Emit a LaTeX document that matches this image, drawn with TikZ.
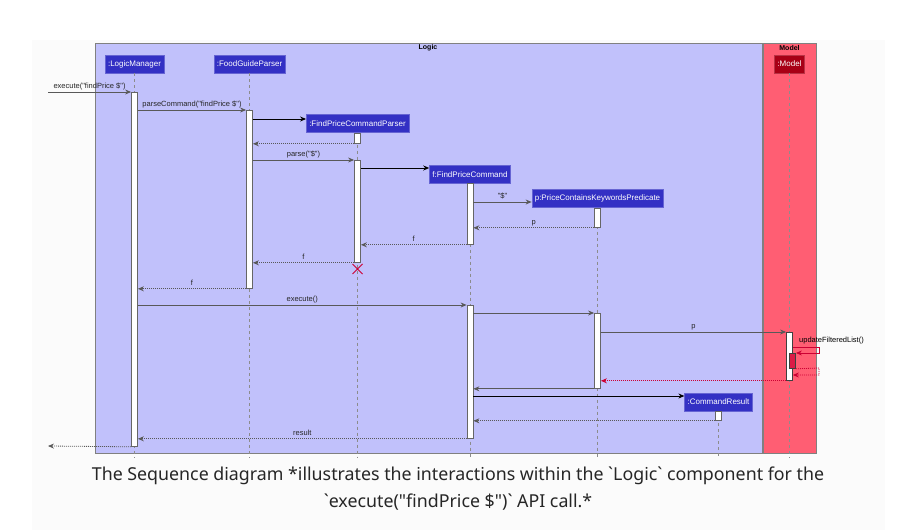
\documentclass[tikz,border=0pt]{standalone}
\usepackage{fontspec}
\usepackage{tikz}
\usetikzlibrary{arrows.meta}
\usetikzlibrary{shapes.misc}
\newfontfamily\umlfont{Liberation Sans}
\newfontfamily\capfont{Noto Sans}

\definecolor{pagebg}{RGB}{251,251,251}
\definecolor{logicbg}{RGB}{193,193,251}
\definecolor{modelbg}{RGB}{255,94,115}
\definecolor{partblue}{RGB}{51,48,196}
\definecolor{partred}{RGB}{168,0,22}
\definecolor{msgred}{RGB}{204,0,51}

\tikzset{
	pkgframe/.style={draw=black!50, line width=0.8pt},
	partbox/.style={draw=partblue!75!white, fill=partblue, text=white, font=\umlfont\fontsize{8}{9.6}\selectfont, inner xsep=3pt, minimum height=18pt},
	actbar/.style={draw=black!60, fill=white, line width=0.8pt, minimum width=6pt, inner sep=0pt, anchor=north},
	lifeline/.style={draw=black!45, line width=0.6pt, dash pattern=on 3pt off 3pt},
	callmsg/.style={draw=black!65, line width=0.8pt, -{Stealth[length=6pt,width=5pt]}},
	newmsg/.style={callmsg, draw=black, line width=1pt},
	retmsg/.style={callmsg, dash pattern=on 1pt off 1pt},
	redmsg/.style={callmsg, draw=msgred},
	redret/.style={retmsg, draw=msgred},
	msglbl/.style={font=\umlfont\fontsize{7.5}{9}\selectfont, text=black!85, above, inner sep=1.5pt, pos=0.5, text height=5.5pt, text depth=1.5pt}
}

\begin{document}
\begin{tikzpicture}[x=1pt, y=-1pt]
\useasboundingbox (0,0) rectangle (897,530);
\fill[pagebg] (32,40) rectangle (885,530);

\draw[pkgframe, fill=logicbg] (95,43) rectangle (762,453);
\draw[pkgframe, fill=modelbg] (763,43) rectangle (816,453);
\node[font=\umlfont\bfseries\fontsize{7}{8}\selectfont] (logicTitle) at (428,48) {Logic};
\node[font=\umlfont\bfseries\fontsize{7}{8}\selectfont] (modelTitle) at (789.5,48) {Model};

\node[partbox] (lm) at (134.5,64) {:LogicManager};
\node[partbox] (fgp) at (249.5,64) {:FoodGuideParser};
\node[partbox] (fpcp) at (357.5,123.5) {:FindPriceCommandParser};
\node[partbox] (fpc) at (470,174.5) {f:FindPriceCommand};
\node[partbox] (pred) at (597.5,198.5) {p:PriceContainsKeywordsPredicate};
\node[partbox, draw=partred!80!white, fill=partred] (model) at (789.5,64) {:Model};
\node[partbox] (cr) at (718.5,402) {:CommandResult};

\foreach \p in {lm, fgp, fpcp, fpc, pred, model, cr}
	\draw[lifeline] (\p.south) -- (\p.south |- 0,458);

\node[actbar, minimum height=354pt] (lmA) at (134.5,92) {};
\node[actbar, minimum height=178pt] (fgpA) at (249.5,110) {};
\node[actbar, minimum height=10pt] (fpcpA) at (357.5,133) {};
\node[actbar, minimum height=102pt] (fpcpB) at (357.5,160) {};
\node[actbar, minimum height=61pt] (fpcA) at (470,183) {};
\node[actbar, minimum height=133pt] (fpcB) at (470,305) {};
\node[actbar, minimum height=19pt] (predA) at (597.5,208) {};
\node[actbar, minimum height=75pt] (predB) at (597.5,313) {};
\node[actbar, minimum height=48pt, draw=black!75] (modelA) at (789.5,332) {};
\node[actbar, minimum height=15pt, draw=black!75, fill=msgred!70!modelbg] (modelB) at (792.5,353) {};
\node[actbar, minimum height=9pt] (crA) at (718.5,411) {};

\coordinate (lmIn) at (48,92);
\coordinate (lmOut) at (48,446);

\draw[callmsg] (lmIn) -- (lmA.north west) node[msglbl] {execute("findPrice \$")};
\draw[callmsg] (lmA.east |- 0,110) -- (fgpA.north west) node[msglbl] {parseCommand("findPrice \$")};
\draw[newmsg] (fgpA.east |- 0,119) -- (fpcp.west |- 0,119);
\draw[retmsg] (fpcpA.south west) -- (fgpA.east |- fpcpA.south);
\draw[callmsg] (fgpA.east |- 0,160) -- (fpcpB.north west) node[msglbl] {parse("\$")};
\draw[newmsg] (fpcpB.east |- 0,168) -- (fpc.west |- 0,168);
\draw[callmsg] (fpcA.east |- 0,202) -- (pred.west |- 0,202) node[msglbl] {"\$"};
\draw[retmsg] (predA.south west) -- (fpcA.east |- predA.south) node[msglbl] {p};
\draw[retmsg] (fpcA.south west) -- (fpcpB.east |- fpcA.south) node[msglbl] {f};
\draw[retmsg] (fpcpB.south west) -- (fgpA.east |- fpcpB.south) node[msglbl] {f};
\node[cross out, draw=msgred, line width=1pt, minimum size=9pt, inner sep=0pt] (fpcpX) at (357.5,269) {};
\draw[retmsg] (fgpA.south west) -- (lmA.east |- fgpA.south) node[msglbl] {f};

\draw[callmsg] (lmA.east |- 0,305) -- (fpcB.north west) node[msglbl] {execute()};
\draw[callmsg] (fpcB.east |- 0,313) -- (predB.north west);
\draw[callmsg] (predB.east |- 0,332) -- (modelA.north west) node[msglbl] {p};
\draw[redmsg] (modelA.east |- 0,347) -- (819,347) -- (819,353) -- (modelB.north east);
\node[font=\umlfont\fontsize{7.5}{9}\selectfont, anchor=west, inner sep=0pt] (updLbl) at (799,341) {updateFilteredList()};
\draw[redret] (modelB.south east) -- (819,368) -- (819,375) -- (modelA.east |- 0,375);
\draw[redret] (modelA.south west) -- (predB.east |- modelA.south);
\draw[callmsg] (predB.south west) -- (fpcB.east |- predB.south);
\draw[newmsg] (fpcB.east |- 0,396) -- (cr.west |- 0,396);
\draw[retmsg] (crA.south west) -- (fpcB.east |- crA.south);
\draw[retmsg] (fpcB.south west) -- (lmA.east |- fpcB.south) node[msglbl] {result};
\draw[retmsg] (lmA.south west) -- (lmOut);

\node[font=\capfont\fontsize{17.8}{21}\selectfont, text=black!85] (cap1) at (458,476) {The Sequence diagram *illustrates the interactions within the `Logic` component for the};
\node[font=\capfont\fontsize{17.8}{21}\selectfont, text=black!85] (cap2) at (458,502) {`execute("findPrice \$")` API call.*};
\end{tikzpicture}
\end{document}
